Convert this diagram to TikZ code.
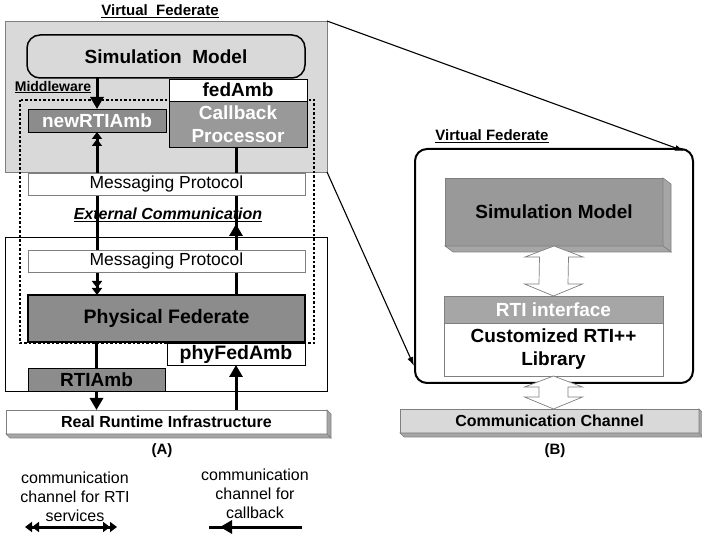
\documentclass[tikz,border=0pt]{standalone}
\usepackage{fontspec}
\setmainfont{Liberation Sans}
\usetikzlibrary{arrows.meta,calc}

\pgfdeclarelayer{base}
\pgfdeclarelayer{wires}
\pgfsetlayers{base,wires,main}

\definecolor{panel}{HTML}{D9D9D9}
\definecolor{deep}{HTML}{8C8C8C}
\definecolor{midgray}{HTML}{999999}
\definecolor{rim}{HTML}{7F7F7F}
\definecolor{sidegray}{HTML}{A6A6A6}

% font helpers: size in pt, with a given baseline skip
\newcommand\txtbold[2]{\fontsize{#1}{#2}\selectfont\bfseries}
\newcommand\txtplain[2]{\fontsize{#1}{#2}\selectfont}

% right and bottom faces of an extruded box
\newcommand\slabsides[3]{%
  \filldraw[draw=rim, fill=#3, line width=0.6pt]
    (#1.north east) -- ++(#2) -- ($(#1.south east)+(#2)$) -- (#1.south east) -- cycle;
  \filldraw[draw=rim, fill=#3, line width=0.6pt]
    (#1.south west) -- (#1.south east) -- ($(#1.south east)+(#2)$) -- ($(#1.south west)+(#2)$) -- cycle;}

% hollow two-headed block arrow between two tip points (same x)
\newcommand\twoheadblock[2]{%
  \draw[blockarrow] (#1) -- ++(29,11) -- ++(-14.5,0) -- ($(#2)+(14.5,-12)$) -- ++(14.5,0)
    -- (#2) -- ++(-29,-12) -- ++(14.5,0) -- ($(#1)+(-14.5,11)$) -- ++(-14.5,0) -- cycle;}

\tikzset{
  box/.style={draw, line width=0.8pt, inner sep=0pt, outer sep=0pt, anchor=north west, align=center},
  wire/.style={line width=3pt},
  bigtip/.style={-{Triangle[length=12pt,width=13pt]}},
  dbl/.style={{Triangle[length=7pt,width=10pt]Triangle[length=7pt,width=10pt]}-{Triangle[length=7pt,width=10pt]Triangle[length=7pt,width=10pt]}},
  boundary/.style={line width=2.6pt, dash pattern=on 2.5pt off 2pt},
  link/.style={line width=1.1pt, -{Latex[length=9pt,width=6pt]}},
  blockarrow/.style={draw=rim, fill=white, line width=0.7pt},
  caption/.style={inner sep=0pt, font=\txtbold{15}{18}},
}

\begin{document}
\begin{tikzpicture}[x=1pt,y=-1pt]
\useasboundingbox (0,0) rectangle (702,537);

% ---------------- (A) ----------------
\begin{pgfonlayer}{base}
  \node[box, draw=rim, fill=panel, minimum width=322pt, minimum height=151pt] (vf) at (5,21) {};
  \node[box, draw=black, fill=white, minimum width=322pt, minimum height=154pt] (low) at (5,237) {};
  \draw[boundary] (20,100) rectangle (314,343);
\end{pgfonlayer}

\node[caption] (vflabel) at (160,11) {\underline{Virtual\ \ Federate}};
\node[caption, font=\txtbold{14}{17}] (mw) at (53,87) {\underline{Middleware}};

\node[box, rounded corners=13pt, fill=panel, line width=1.5pt,
      minimum width=278pt, minimum height=43pt, font=\txtbold{19}{23}] (smL) at (27,35) {Simulation\ \ Model};
\node[box, fill=white, minimum width=138pt, minimum height=22pt, font=\txtbold{19}{23}] (fed) at (169,79) {fedAmb};
\node[box, fill=midgray, text=white, minimum width=138pt, minimum height=46pt, font=\txtbold{19}{23}] (cb) at (169,101) {Callback\\Processor};
\node[box, fill=deep, text=white, minimum width=138pt, minimum height=23pt, font=\txtbold{19}{23}] (nrti) at (28,109) {newRTIAmb};

\node[box, draw=rim, fill=white, minimum width=277pt, minimum height=22pt, font=\txtplain{17.5}{21}] (mp1) at (28,173) {Messaging Protocol};
\node[inner sep=0pt, font=\txtbold{16}{19}\itshape] (ext) at (168,215) {\underline{External Communication}};
\node[box, draw=rim, fill=white, minimum width=277pt, minimum height=22pt, font=\txtplain{17.5}{21}] (mp2) at (28,250) {Messaging Protocol};

\node[box, fill=deep, line width=2pt, minimum width=277pt, minimum height=47pt, font=\txtbold{19.5}{23}] (pf) at (28,295) {Physical Federate};
\node[box, fill=white, minimum width=138pt, minimum height=22pt, font=\txtbold{19.5}{23}] (phy) at (167,343) {phyFedAmb};
\node[box, fill=deep, minimum width=137pt, minimum height=23pt, font=\txtbold{19}{23}] (rtiamb) at (28,368) {RTIAmb};

\node[box, draw=rim, fill=white, line width=0.6pt, minimum width=321pt, minimum height=24pt, font=\txtbold{16}{19}] (rri) at (6,410) {Real Runtime Infrastructure};
\slabsides{rri}{4,4}{sidegray}

\node[caption] (capA) at (162,451) {(A)};

\begin{pgfonlayer}{wires}
  \draw[wire, bigtip] (smL.south -| nrti.center) -- (nrti.north);
  \draw[wire, dbl] (nrti.south) -- (pf.north -| nrti.south);
  \coordinate (cbtip) at ($(low.north -| phy.north)+(0,-13)$);
  \draw[wire] (pf.north -| phy.north) -- (cb.south -| phy.north);
  \draw[wire, bigtip] (pf.north -| phy.north) -- (cbtip);
  \draw[wire, bigtip] (pf.south -| rtiamb.north) -- (rri.north -| rtiamb.north);
  \draw[wire, bigtip] (rri.north -| phy.south) -- (phy.south);
\end{pgfonlayer}

% ---------------- legend ----------------
\node[align=center, inner sep=0pt, font=\txtplain{16}{19}] (leg1) at (75,497) {communication\\channel for RTI\\services};
\node[align=center, inner sep=0pt, font=\txtplain{16}{19}] (leg2) at (255,494) {communication\\channel for\\callback};
\coordinate (l1a) at (25,527);
\coordinate (l1b) at (117,527);
\draw[wire, dbl] (l1a) -- (l1b);
\coordinate (l2a) at (302,527);
\coordinate (l2b) at (209,527);
\coordinate (l2m) at (220,527);
\draw[wire] (l2a) -- (l2b);
\draw[wire, bigtip] (l2a) -- (l2m);

% ---------------- (B) ----------------
\node[caption] (vflabel2) at (492,136) {\underline{Virtual Federate}};
\node[box, rounded corners=12pt, line width=2pt, minimum width=278pt, minimum height=234pt] (vfR) at (415,149) {};

\node[box, draw=rim, fill=midgray, line width=0.6pt, minimum width=218pt, minimum height=68pt, font=\txtbold{19}{23}] (smR) at (445,178) {Simulation Model};
\slabsides{smR}{8,6}{sidegray}

\node[box, draw=rim, fill=sidegray, text=white, line width=0.6pt, minimum width=219pt, minimum height=27pt, font=\txtbold{19}{23}] (rtiif) at (444,296) {RTI interface};
\node[box, draw=rim, fill=white, line width=0.6pt, minimum width=219pt, minimum height=53pt, font=\txtbold{19}{23}] (lib) at (444,323) {Customized RTI++\\Library};

\node[box, draw=rim, fill=panel, line width=0.6pt, minimum width=299pt, minimum height=24pt, font=\txtbold{16}{19}] (cc) at (400,409) {Communication Channel};
\slabsides{cc}{4,4}{sidegray}

\twoheadblock{smR.south}{rtiif.north}
\twoheadblock{lib.south}{lib.south |- cc.north}

\node[caption] (capB) at (555,451) {(B)};

% zoom connectors from panel (A) to panel (B)
\coordinate (tipA) at (684,151);
\coordinate (tipB) at (414,366);
\draw[link] (vf.north east) -- (tipA);
\draw[link] (vf.south east) -- (tipB);
\end{tikzpicture}
\end{document}
